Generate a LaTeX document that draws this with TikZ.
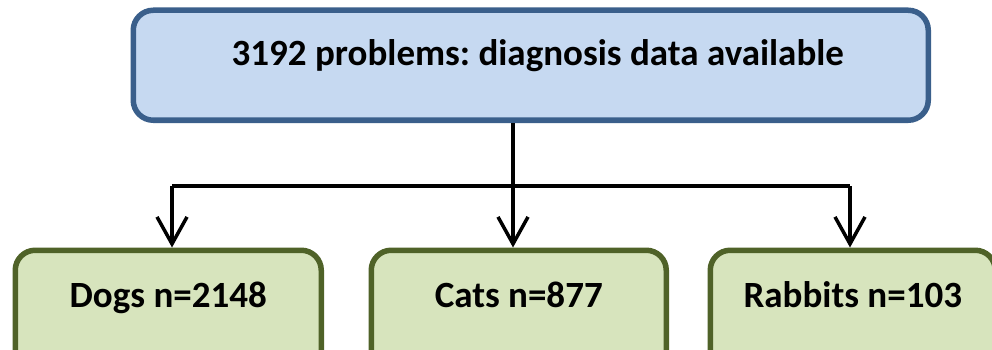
\documentclass[tikz,border=0pt]{standalone}
\usepackage{fontspec}
\setmainfont{Carlito}
\frenchspacing
\usetikzlibrary{arrows.meta}
\definecolor{topfill}{HTML}{C6D9F1}
\definecolor{topdraw}{HTML}{3A5F8B}
\definecolor{grfill}{HTML}{D7E4BD}
\definecolor{grdraw}{HTML}{4F6228}
\tikzset{
  topbox/.style={draw=topdraw, fill=topfill, line width=5.5pt, rounded corners=20pt,
    minimum width=795pt, minimum height=110pt, inner sep=0pt,
    font=\fontsize{37}{42}\selectfont\bfseries, text height=27pt, text depth=27pt},
  animalbox/.style={draw=grdraw, fill=grfill, line width=5.5pt, rounded corners=20pt,
    minimum height=120pt, inner sep=0pt,
    font=\fontsize{37}{42}\selectfont\bfseries, text height=22pt, text depth=28pt},
  conn/.style={line width=3.5pt},
  arr/.style={conn, -{Straight Barb[length=27pt, width=30pt, line width=3.5pt]}}
}
\begin{document}
\begin{tikzpicture}[x=1pt, y=-1pt]
\useasboundingbox (0,0) rectangle (992,350);
\clip (0,0) rectangle (992,350);
\node[topbox, anchor=north west] (top) at (130.5,7.5) {\hspace*{14pt}3192 problems: diagnosis data available};
\node[animalbox, minimum width=306pt, anchor=north west] (dogs) at (12.5,247.5) {Dogs n=2148};
\node[animalbox, minimum width=295pt, anchor=north west] (cats) at (368.5,247.5) {Cats n=877};
\node[animalbox, minimum width=285pt, anchor=north west] (rabbits) at (707.5,247.5) {Rabbits n=103};
\coordinate (jl) at (172,186);
\coordinate (jc) at (513,186);
\coordinate (jr) at (850,186);
\draw[conn] (jl) -- (jr);
\draw[arr] (top.south -| jc) -- (cats.north -| jc);
\draw[arr] (jl) -- (dogs.north -| jl);
\draw[arr] (jr) -- (rabbits.north -| jr);
\end{tikzpicture}
\end{document}
